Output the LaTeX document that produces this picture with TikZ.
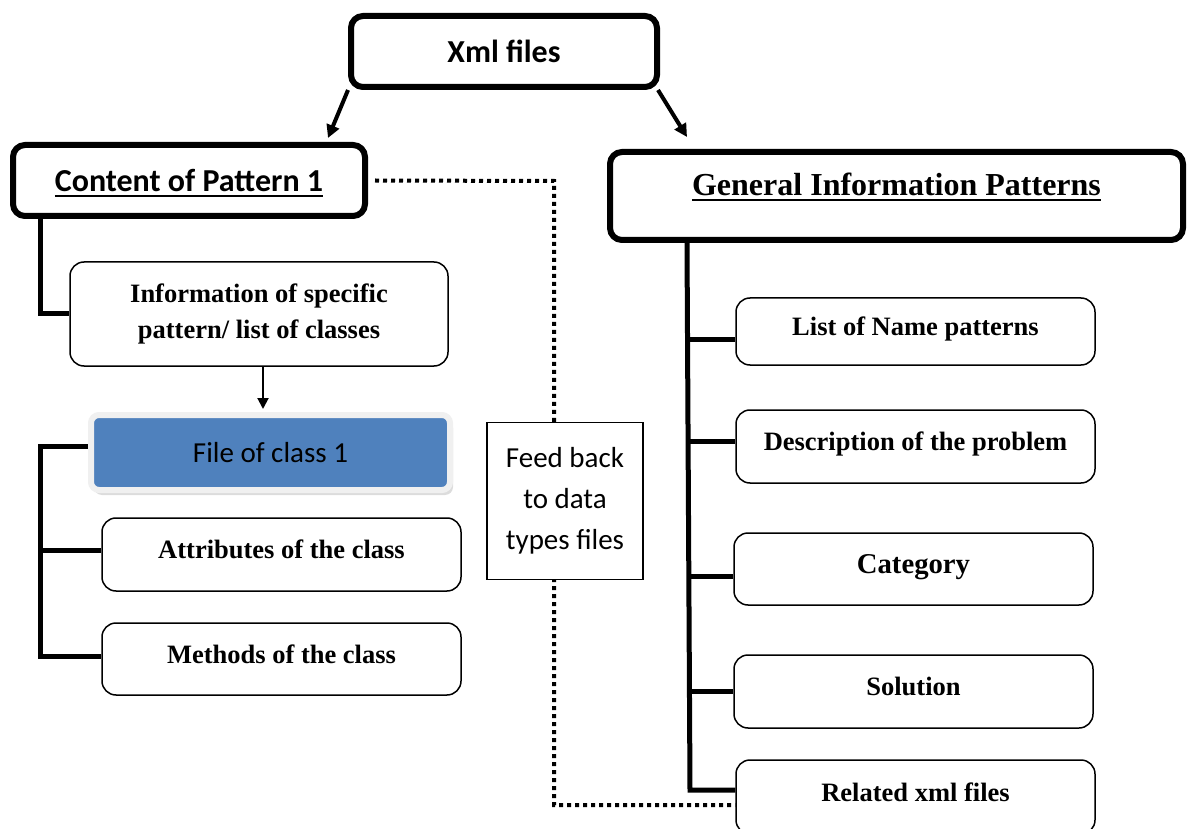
\documentclass[tikz,border=0pt]{standalone}
\usepackage{fontspec}
\setmainfont{Liberation Serif}
\newfontfamily\calibri{Carlito}
\usetikzlibrary{arrows.meta, positioning, shadows}

\definecolor{clsblue}{HTML}{4F81BD}

% thick underline
\newsavebox{\ulsave}
\newcommand{\thickul}[1]{\sbox{\ulsave}{#1}\rlap{\raisebox{-5.5pt}{\rule{\wd\ulsave}{2pt}}}\usebox{\ulsave}}

\pgfdeclarelayer{background}
\pgfsetlayers{background,main}

\tikzset{
    bigbox/.style={draw, line width=6pt, rounded corners=12pt, fill=white},
    boxbase/.style={draw, line width=1.5pt, rounded corners=14pt, fill=white,
        font=\bfseries\fontsize{26.5}{36}\selectfont, minimum width=359pt},
    itembox/.style={boxbase, text height=20pt, text depth=12pt},
    clsbox/.style={fill=clsblue, draw=gray!12, line width=6pt, rounded corners=8pt,
        minimum width=359pt, minimum height=75pt, font=\calibri\fontsize{29}{34}\selectfont,
        drop shadow={shadow xshift=3pt, shadow yshift=-5pt, fill=gray!55}},
    feedbox/.style={draw, line width=1.5pt, fill=white, align=center,
        minimum width=156pt, minimum height=157pt, font=\calibri\fontsize{29}{41}\selectfont},
    trunk/.style={line width=5pt},
    arr/.style={line width=4pt, -{Triangle[length=13pt,width=13pt]}},
    thinarr/.style={line width=2pt, -{Triangle[length=11pt,width=11pt]}},
    fbline/.style={line width=4pt, dash pattern=on 4pt off 4pt}
}

\begin{document}
\begin{tikzpicture}[x=1pt, y=-1pt]
    \useasboundingbox (0,0) rectangle (1187,829);

    % Top and the two main boxes
    \node[bigbox, minimum width=306pt, minimum height=71pt,
        font=\calibri\bfseries\fontsize{32}{38}\selectfont] (xml) at (504,51.5) {Xml files};
    \node[bigbox, minimum width=352pt, minimum height=71pt, text height=26pt, text depth=4pt,
        font=\calibri\bfseries\fontsize{32}{38}\selectfont] (content) at (189,180.5) {\thickul{Content of Pattern 1}};
    \node[bigbox, minimum width=573pt, minimum height=88pt, text height=24pt, text depth=24pt,
        font=\bfseries\fontsize{32}{38}\selectfont] (general) at (896.5,196) {\thickul{General Information Patterns}};

    % Left side (one pattern)
    \node[boxbase, minimum width=378pt, minimum height=104pt, align=center] (info) at (259,314)
        {Information of specific\\pattern/ list of classes};
    \node[clsbox] (cls1) at (270.5,452.5) {File of class 1};
    \node[itembox, minimum height=73pt] (attr) at (281.5,554.5) {Attributes of the class};
    \node[itembox, minimum height=72pt] (methods) at (281.5,659) {Methods of the class};

    % Right side (general information)
    \node[itembox, minimum height=67pt] (list) at (915.5,331.5) {List of Name patterns};
    \node[itembox, minimum height=73pt] (desc) at (915.5,446.5) {Description of the problem};
    \node[itembox, minimum height=72pt, font=\bfseries\fontsize{28.7}{36}\selectfont] (cat) at (913.5,569) {Category};
    \node[itembox, minimum height=73pt] (sol) at (913.5,691.5) {Solution};
    \node[itembox, minimum height=74pt] (related) at (915.5,797) {Related xml files};

    % Feed back box on the dotted line
    \node[feedbox] (feed) at (565,501) {Feed back\\to data\\types files};

    % Bends of the lines
    \coordinate (lbot) at (40,656);
    \coordinate (rbot) at (690,790);
    \coordinate (fbtop) at (554,181);
    \coordinate (fbbot) at (554,805);

    \begin{pgfonlayer}{background}
        % Arrows from the top box
        \draw[arr] (xml.south west) -- ([xshift=-40pt,yshift=4pt]content.north east);
        \draw[arr] ([xshift=-2pt]xml.south east) -- ([xshift=80pt,yshift=12pt]general.north west);

        % Left tree
        \draw[trunk] ([xshift=30pt]content.south west) |- (info.west);
        \draw[thinarr] ([xshift=4pt]info.south) -- ([xshift=4pt,yshift=3pt]info.south |- cls1.north);
        \draw[trunk] ([yshift=6pt]cls1.west) -| (lbot) -- (lbot -| methods.west);
        \draw[trunk] ([yshift=4pt]attr.west) -- ++(-62,0);

        % Right tree
        \draw[trunk] ([xshift=80pt]general.south west) -- (rbot) -- (rbot -| related.west);
        \foreach \n/\s/\l in {list/-8/46, desc/5/46, cat/-7/44, sol/0/44} {
            \draw[trunk] ([yshift=\s pt]\n.west) -- ++(-\l,0);
        }

        % Dotted feed back line
        \draw[fbline] ([xshift=7pt]content.east) -- (fbtop) -- (fbbot) -- (fbbot -| related.west);
    \end{pgfonlayer}
\end{tikzpicture}
\end{document}
